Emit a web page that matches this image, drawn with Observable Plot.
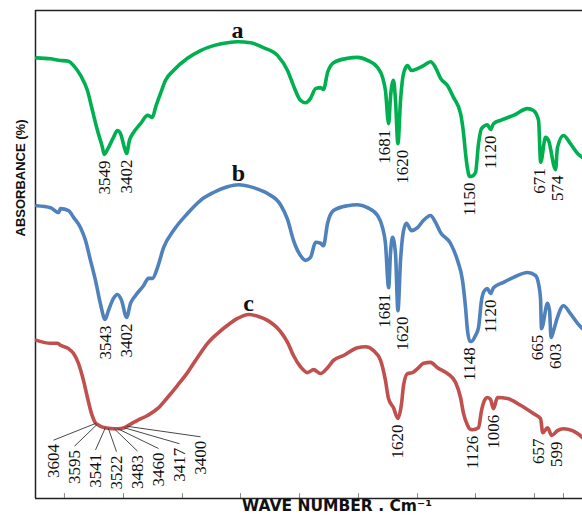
<!DOCTYPE html>
<html>
<head>
<meta charset="utf-8">
<script src="https://cdn.jsdelivr.net/npm/d3@7"></script>
<script src="https://cdn.jsdelivr.net/npm/@observablehq/plot@0.6"></script>
<style>
  body { margin: 0; background: #fff; }
  svg { display: block; }
</style>
</head>
<body>
<div id="chart"></div>
<script>
// FTIR spectra of samples a, b and c (wave number in cm-1, absorbance in %).
const waveA = [3993, 3901, 3849, 3783, 3750, 3704, 3659, 3626, 3593, 3560, 3549, 3521, 3488, 3462, 3442, 3416, 3402, 3383, 3356, 3310, 3264, 3232, 3212, 3179, 3146, 3094, 3002, 2916, 2831, 2739, 2673, 2588, 2503, 2411, 2345, 2306, 2260, 2227, 2194, 2161, 2128, 2109, 2082, 2043, 1951, 1885, 1820, 1754, 1721, 1702, 1681, 1669, 1649, 1636, 1620, 1603, 1583, 1557, 1531, 1491, 1452, 1406, 1373, 1340, 1294, 1255, 1209, 1189, 1176, 1163, 1150, 1134, 1125, 1124, 1123, 1121, 1120, 1006, 956, 864, 764, 722, 686, 671, 639, 620, 574, 562, 523, 478, 432, 400];
const absA = [90.3, 90.1, 89.8, 89.6, 88.7, 86.7, 83.6, 79.5, 75.4, 71.9, 70.5, 71.9, 74.0, 75.4, 74.8, 71.9, 70.7, 73.4, 75.0, 76.8, 78.5, 78.1, 80.1, 83.0, 85.7, 87.7, 90.2, 91.8, 92.8, 93.4, 93.6, 93.4, 92.4, 90.8, 87.7, 84.6, 81.6, 81.1, 82.0, 84.0, 84.2, 83.8, 87.3, 89.3, 90.2, 90.4, 89.8, 88.3, 86.3, 83.6, 76.8, 82.2, 85.7, 81.6, 72.7, 81.6, 87.1, 88.7, 87.7, 88.1, 88.7, 89.5, 88.3, 86.1, 84.6, 82.2, 78.9, 74.8, 70.7, 67.6, 66.0, 66.0, 66.8, 72.7, 75.8, 76.6, 75.6, 76.8, 77.5, 78.5, 79.9, 79.5, 77.5, 68.9, 74.0, 73.4, 67.4, 71.9, 74.4, 72.7, 70.7, 69.9];

const waveB = [3993, 3901, 3849, 3836, 3783, 3750, 3704, 3672, 3639, 3606, 3573, 3543, 3521, 3488, 3462, 3435, 3402, 3376, 3343, 3291, 3258, 3232, 3199, 3159, 3094, 3002, 2916, 2831, 2739, 2667, 2568, 2476, 2391, 2345, 2306, 2260, 2227, 2194, 2161, 2128, 2109, 2082, 2043, 1951, 1885, 1820, 1754, 1721, 1702, 1681, 1669, 1656, 1636, 1620, 1603, 1583, 1564, 1531, 1491, 1452, 1406, 1373, 1340, 1275, 1229, 1196, 1176, 1163, 1148, 1134, 1125, 1124, 1123, 1122, 1121, 1120, 1006, 935, 864, 764, 708, 686, 672, 665, 626, 613, 603, 587, 562, 523, 478, 432, 400];
const absB = [60.0, 59.6, 58.6, 59.4, 59.0, 57.6, 55.5, 52.9, 48.8, 44.7, 39.8, 36.7, 38.5, 41.0, 41.8, 40.6, 37.1, 40.0, 41.6, 43.6, 45.1, 45.1, 47.3, 51.4, 54.9, 58.4, 61.1, 62.7, 63.9, 64.3, 63.7, 62.5, 60.2, 57.2, 52.9, 49.8, 48.8, 49.4, 52.5, 52.3, 51.8, 56.4, 59.0, 60.0, 60.2, 59.6, 58.0, 55.5, 52.3, 43.2, 50.2, 53.5, 50.2, 38.5, 48.8, 54.9, 56.4, 54.9, 55.5, 57.0, 58.0, 56.6, 54.5, 52.3, 48.8, 44.7, 39.1, 34.4, 32.2, 32.2, 33.4, 35.0, 40.6, 42.6, 43.0, 42.0, 43.2, 44.3, 45.3, 46.3, 45.7, 44.0, 41.0, 34.8, 40.0, 38.5, 33.0, 34.4, 37.1, 39.5, 37.9, 35.9, 34.8];

const waveC = [3993, 3901, 3855, 3836, 3783, 3750, 3718, 3685, 3659, 3632, 3604, 3595, 3573, 3541, 3522, 3483, 3460, 3417, 3400, 3330, 3264, 3199, 3133, 3067, 3002, 2936, 2870, 2805, 2739, 2673, 2601, 2536, 2476, 2391, 2345, 2306, 2260, 2214, 2174, 2128, 2082, 2043, 1977, 1885, 1833, 1780, 1734, 1702, 1682, 1649, 1620, 1596, 1583, 1557, 1524, 1491, 1452, 1406, 1360, 1294, 1242, 1209, 1189, 1163, 1150, 1126, 1124, 1123, 1122, 1121, 1120, 1006, 978, 907, 814, 722, 672, 657, 626, 599, 562, 523, 465, 432, 400];
const absC = [32.4, 31.8, 31.8, 31.4, 30.7, 29.7, 27.7, 24.2, 20.7, 17.4, 15.4, 15.2, 14.8, 14.5, 14.4, 14.3, 14.3, 14.5, 14.8, 16.0, 17.0, 18.4, 20.7, 23.2, 25.8, 28.9, 31.8, 33.8, 35.5, 36.9, 37.7, 37.3, 36.5, 34.2, 32.0, 29.3, 27.0, 25.8, 26.4, 25.6, 26.8, 28.3, 29.3, 30.9, 31.1, 30.3, 28.3, 24.2, 20.5, 18.6, 16.4, 19.5, 23.2, 25.6, 25.8, 26.6, 27.7, 27.9, 26.8, 25.6, 23.8, 20.7, 17.4, 15.0, 14.3, 14.1, 14.5, 18.0, 20.1, 20.7, 20.3, 18.4, 20.7, 20.5, 19.1, 17.4, 16.4, 13.5, 14.5, 12.9, 13.9, 14.3, 13.9, 13.3, 12.5];

// Annotated band positions (cm-1)
const peaksA = [3549, 3402, 1681, 1620, 1150, 1120, 671, 574];
const peaksB = [3543, 3402, 1681, 1620, 1148, 1120, 665, 603];
const peaksC = [1620, 1126, 1006, 657, 599];
const fanC = [3604, 3595, 3541, 3522, 3483, 3460, 3417, 3400];

// Minor tick marks along the wave-number axis
const tickWaves = [3810, 3422, 3035, 2654, 2266, 1879, 1491, 1125, 715, 523];

const seriesNames = ["a", "b", "c"];
const seriesColors = ["#00b050", "#4f81bd", "#c0504d"];

// Piecewise wave-number axis (the instrument export is not evenly spaced)
const xDomain = [4000, 1150, 1126, 1120, 1006, 665, 400];
const xRange = [35, 469, 472, 490, 493, 541, 582];
const xs = d3.scaleLinear().domain(xDomain).range(xRange);

const sets = [
  {name: "a", waves: waveA, abs: absA, peaks: peaksA},
  {name: "b", waves: waveB, abs: absB, peaks: peaksB},
  {name: "c", waves: waveC, abs: absC, peaks: peaksC}
];

const spectra = sets.flatMap(s => s.waves.map((w, i) => ({w, v: s.abs[i], series: s.name})));
const valueAt = (s, w) => s.abs[s.waves.indexOf(w)];

// Peak labels; neighbours closer than minGap px are pushed apart symmetrically
const minGap = 18;
const peakLabels = sets.flatMap(s => {
  const labels = s.peaks.map(w => ({w, v: valueAt(s, w), px: xs(w)}));
  labels.sort((p, q) => p.px - q.px);
  const shifts = labels.map(() => 0);
  for (let i = 1; i < labels.length; i++) {
    const gap = labels[i].px - labels[i - 1].px;
    if (gap < minGap) {
      const d = (minGap - gap) / 2;
      shifts[i - 1] -= d;
      shifts[i] += d;
    }
  }
  return labels.map((p, i) => ({...p, lx: xs.invert(p.px + shifts[i])}));
});

// Letter over the broad maximum of each spectrum
const letters = sets.map(s => {
  const i = d3.maxIndex(s.abs);
  return {w: s.waves[i], v: s.abs[i], name: s.name};
});

// Fanned labels for the crowded O-H region of spectrum c
const setC = sets[2];
const fan = fanC.map((w, i) => {
  const k = i - (fanC.length - 1) / 2;
  const top = 8.8 + 0.22 * k * k + 0.1 * k;
  return {w, v: valueAt(setC, w), lw: xs.invert(53 + 21 * i), lv: top, lineV: top + 0.8};
});

const serif = "'Liberation Serif', 'Times New Roman', serif";

const chart = Plot.plot({
  width: 582,
  height: 515,
  marginLeft: 35,
  marginRight: 0,
  marginTop: 10,
  marginBottom: 17,
  style: {background: "#fff"},
  x: {type: "linear", domain: xDomain, range: xRange, axis: null},
  y: {domain: [0, 100], axis: null},
  color: {domain: seriesNames, range: seriesColors},
  marks: [
    Plot.ruleX(tickWaves, {y1: 0, y2: 1, stroke: "#888", strokeWidth: 1}),
    Plot.ruleY([0, 100], {stroke: "#222", strokeWidth: 1.5}),
    Plot.ruleX([4000], {stroke: "#222", strokeWidth: 1.5}),
    Plot.line(spectra, {
      x: "w", y: "v", z: "series", stroke: "series", curve: "monotone-x",
      strokeWidth: 3.6, strokeLinejoin: "round", strokeLinecap: "round"
    }),
    Plot.text(peakLabels, {
      x: "lx", y: "v", text: d => String(d.w), rotate: -90,
      textAnchor: "end", lineAnchor: "middle", dy: 6,
      fontFamily: serif, fontSize: 17, fill: "#111"
    }),
    Plot.link(fan, {x1: "w", y1: "v", x2: "lw", y2: "lineV", stroke: "#333", strokeWidth: 0.9}),
    Plot.text(fan, {
      x: "lw", y: "lv", text: d => String(d.w), rotate: -90,
      textAnchor: "end", lineAnchor: "middle",
      fontFamily: serif, fontSize: 17, fill: "#111"
    }),
    Plot.text(letters, {
      x: "w", y: "v", text: "name", lineAnchor: "bottom", dy: -4,
      fontFamily: serif, fontWeight: "bold", fontSize: 24, fill: "#111"
    }),
    Plot.text(["ABSORBANCE (%)"], {
      text: d => d, frameAnchor: "left", rotate: -90, dx: -15, dy: -18,
      fontFamily: "'Liberation Sans', Arial, sans-serif", fontWeight: "bold", fontSize: 13, fill: "#111"
    }),
    Plot.text(["WAVE NUMBER . Cm\u207B\u00B9"], {
      text: d => d, frameAnchor: "bottom", lineAnchor: "top", dx: 28, dy: 1.5,
      fontFamily: "'DejaVu Sans', Verdana, sans-serif", fontWeight: "bold", fontSize: 15.5, fill: "#111"
    })
  ]
});

document.getElementById("chart").append(chart);
</script>
</body>
</html>
